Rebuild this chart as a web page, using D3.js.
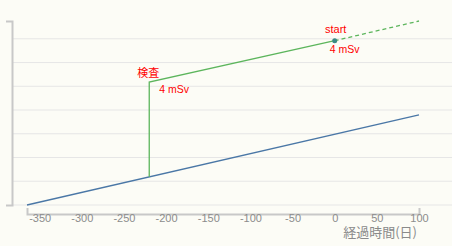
<!DOCTYPE html>
<html>
<head>
<meta charset="utf-8">
<script src="https://cdn.jsdelivr.net/npm/d3@7"></script>
<style>
  body { margin: 0; background: #fcfcf6; }
  svg { display: block; font-family: "Liberation Sans", Arial, sans-serif; }
  .grid line { stroke: #e6e6e6; stroke-width: 1; }
  .axis path { stroke: #c8c8c8; stroke-width: 2; fill: none; }
  .note { fill: #f00; }
</style>
</head>
<body>
<svg width="452" height="246"></svg>
<script>
// days, mSv
var baseDays = [-365, 100];
var baseDose = [0, 3.8];

var testDays = [-220, -220, 0];
var testDose = [1.19, 5.18, 6.92];

var futureDays = [0, 100];
var futureDose = [6.92, 7.75];

var xTicks = [-350, -300, -250, -200, -150, -100, -50, 0, 50, 100];
var gridValues = [0, 1, 2, 3, 4, 5, 6, 7];

var svg = d3.select("svg");

var x = d3.scaleLinear().domain([-365, 100]).range([27, 419]);
var y = d3.scaleLinear().domain([0, d3.max(futureDose)]).range([205, 21]);

function pts(xs, ys) { return xs.map(function(d, i) { return [d, ys[i]]; }); }

var line = d3.line()
    .x(function(d) { return x(d[0]); })
    .y(function(d) { return y(d[1]); });

// grid
svg.append("g").attr("class", "grid")
  .selectAll("line").data(gridValues).enter().append("line")
    .attr("x1", 13).attr("x2", 452)
    .attr("y1", function(d) { return y(d); })
    .attr("y2", function(d) { return y(d); });

// y axis (no ticks)
svg.append("g").attr("class", "axis")
    .attr("transform", "translate(12,0)")
    .call(d3.axisLeft(y).tickValues([]).tickSizeOuter(6));

// x axis
var xa = svg.append("g").attr("class", "axis")
    .attr("transform", "translate(0,214)")
    .call(d3.axisBottom(x).tickValues(xTicks)
      .tickFormat(function(d) { return String(d); })
      .tickSizeInner(0).tickSizeOuter(-6).tickPadding(0));
xa.selectAll(".tick line").remove();
xa.selectAll(".tick text")
    .attr("fill", "#8c8c8c")
    .style("font-size", "11px");

svg.append("text")
    .attr("x", 417).attr("y", 237)
    .attr("text-anchor", "end")
    .style("font-family", "'Noto Sans CJK JP', sans-serif")
    .style("font-size", "13px")
    .style("fill", "#8a8a8a")
    .text("経過時間(日)");

// lines
svg.append("path").datum(pts(baseDays, baseDose))
    .attr("d", line).attr("fill", "none")
    .attr("stroke", "#4a77a6").attr("stroke-width", 1.3);

svg.append("path").datum(pts(testDays, testDose))
    .attr("d", line).attr("fill", "none")
    .attr("stroke", "#5cb55c").attr("stroke-width", 1.3);

svg.append("path").datum(pts(futureDays, futureDose))
    .attr("d", line).attr("fill", "none")
    .attr("stroke", "#5cb55c").attr("stroke-width", 1.3)
    .attr("stroke-dasharray", "4,3");

svg.append("circle")
    .attr("cx", x(futureDays[0])).attr("cy", y(futureDose[0]))
    .attr("r", 2.5).attr("fill", "#3a8a86");

// notes
var tx = x(testDays[1]), ty = y(testDose[1]);
svg.append("text").attr("class", "note")
    .attr("x", tx + 10).attr("y", ty - 5).attr("text-anchor", "end")
    .style("font-family", "'Noto Sans CJK JP', sans-serif")
    .style("font-size", "11px")
    .text("検査");
svg.append("text").attr("class", "note")
    .attr("x", tx + 10).attr("y", ty + 11).style("font-size", "10.5px")
    .text("4 mSv");

var sx = x(futureDays[0]), sy = y(futureDose[0]);
svg.append("text").attr("class", "note")
    .attr("x", sx + 1).attr("y", sy - 8).attr("text-anchor", "middle")
    .style("font-size", "11px")
    .text("start");
svg.append("text").attr("class", "note")
    .attr("x", sx - 5).attr("y", sy + 12).style("font-size", "10.5px")
    .text("4 mSv");
</script>
</body>
</html>
